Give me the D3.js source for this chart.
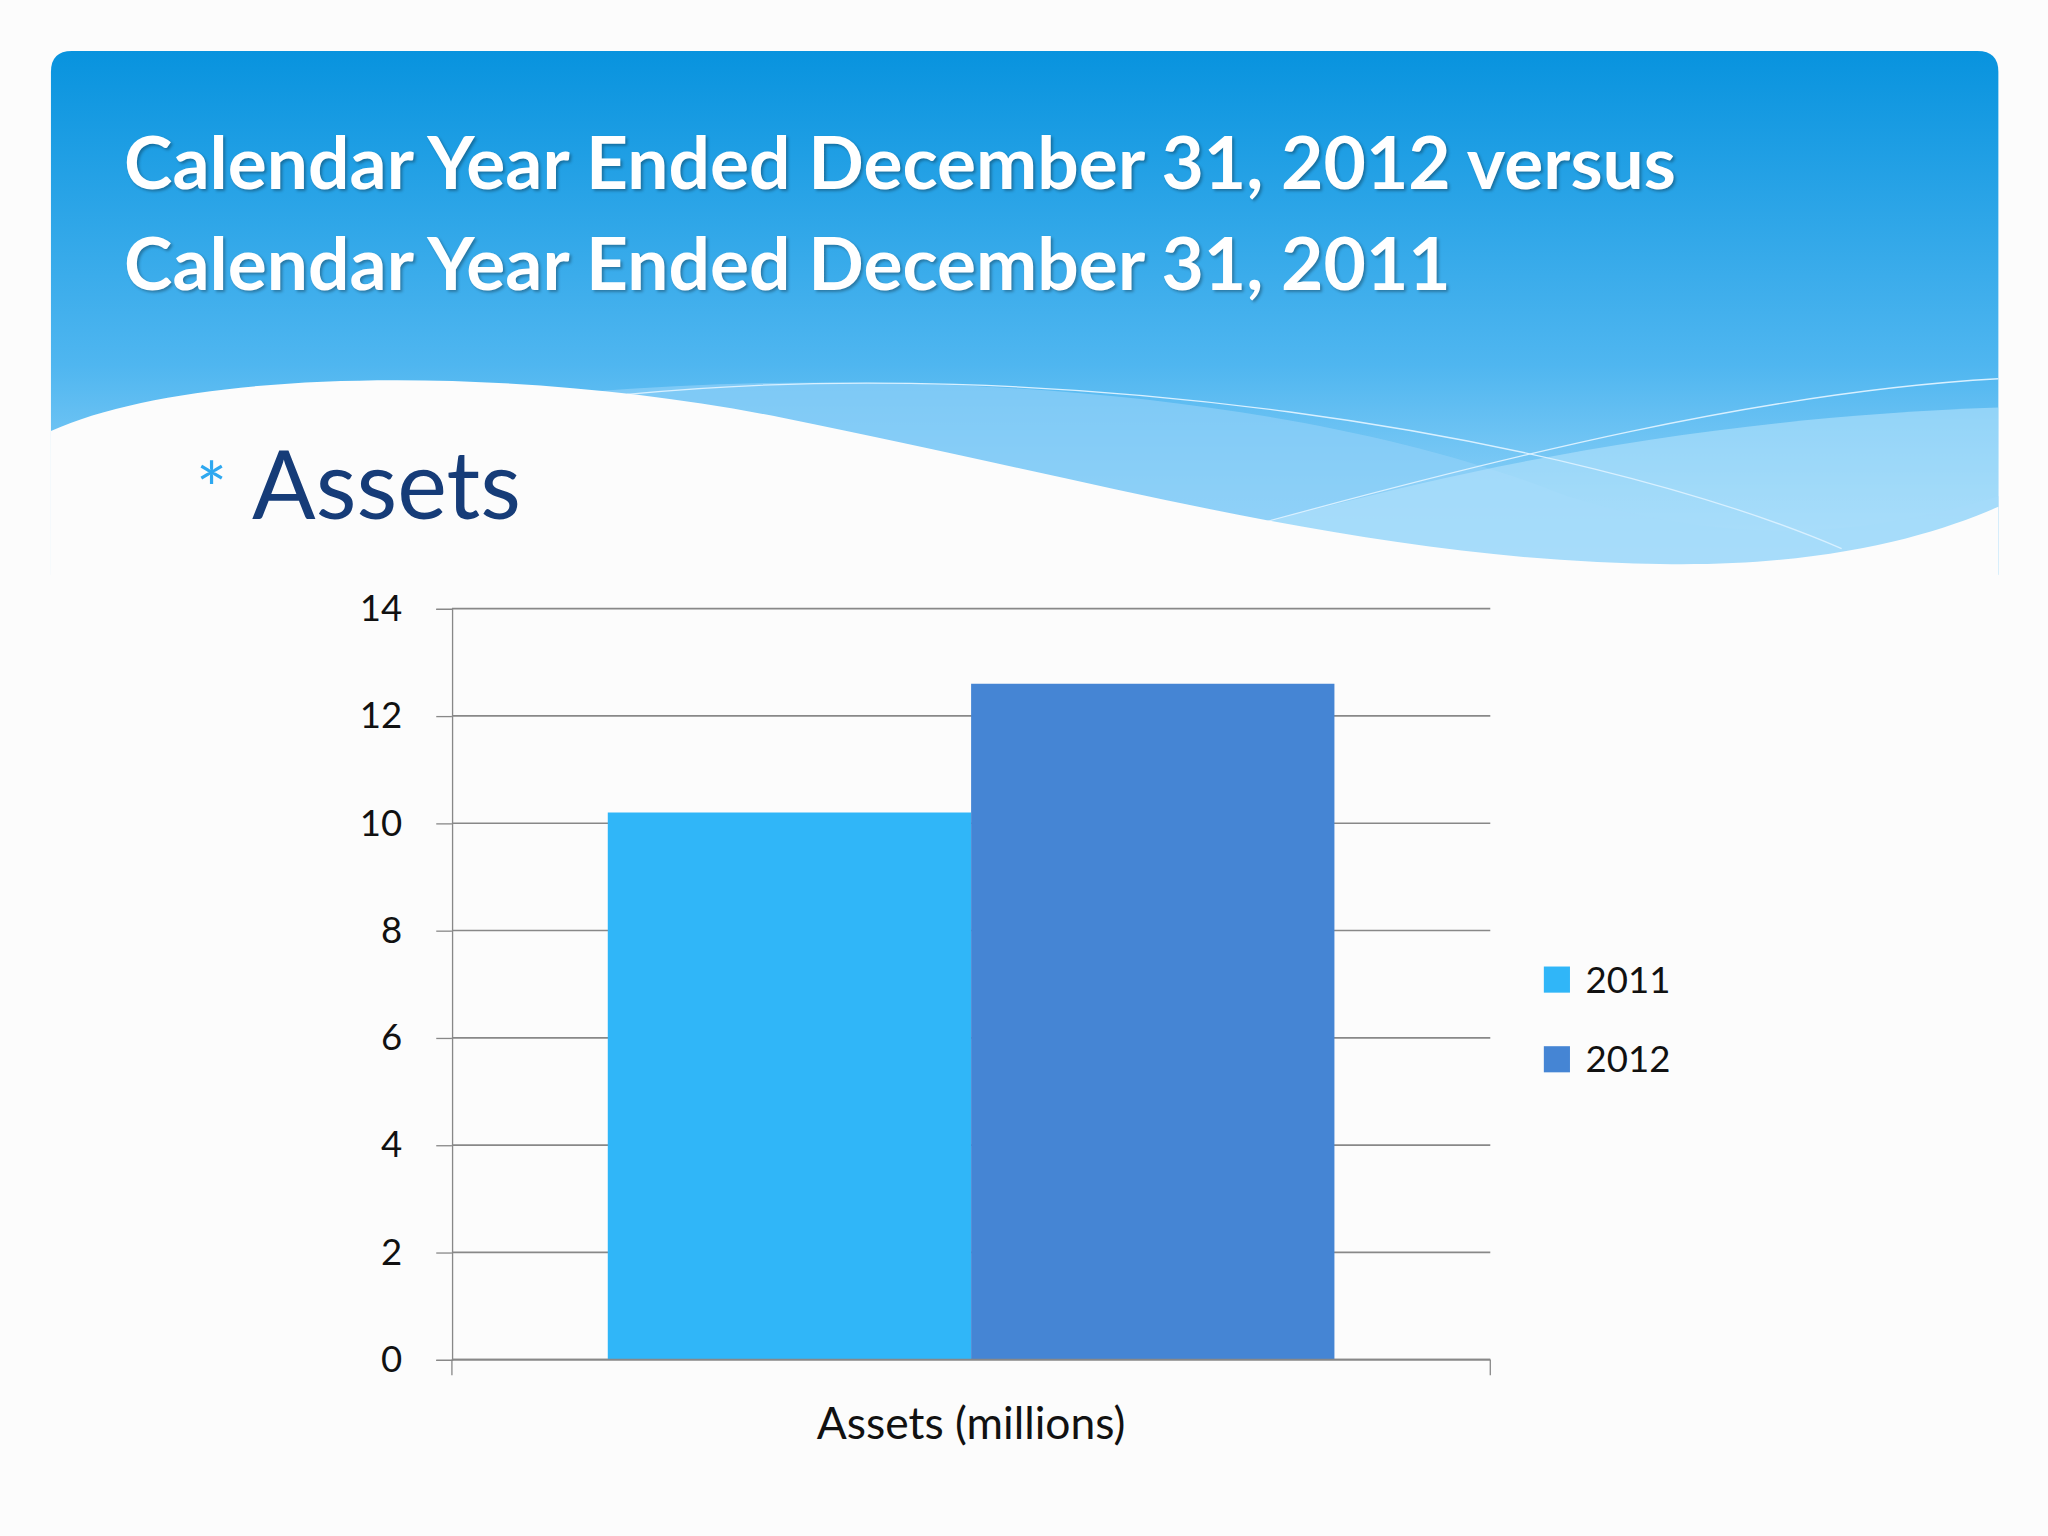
<!DOCTYPE html>
<html><head><meta charset="utf-8">
<script src="https://cdn.jsdelivr.net/npm/d3@7"></script>
<style>body{margin:0;background:#fff}svg{display:block}</style>
</head><body>
<svg id="c" width="2048" height="1536"></svg>
<script>
const categories = ['Assets (millions)']
const seriesNames = ['2011', '2012']
const seriesValues = [10.2, 12.6]
const yTicks = [0, 2, 4, 6, 8, 10, 12, 14]
const colors = ['#30b6f8', '#4585d4']

const svg = d3.select('#c')
const g = svg.append('g').attr('transform', 'scale(' + (2048 / 1568) + ')')

// slide background
g.append('rect').attr('width', 1568).attr('height', 1176).attr('fill', '#fcfcfc')

const defs = svg.append('defs')
const grad = defs.append('linearGradient').attr('id', 'hdr').attr('x1', 0).attr('y1', 0).attr('x2', 0).attr('y2', 1)
grad.append('stop').attr('offset', '0%').attr('stop-color', '#0893de')
grad.append('stop').attr('offset', '60%').attr('stop-color', '#4fb6f0')
grad.append('stop').attr('offset', '100%').attr('stop-color', '#a8dcfa')

// header band
g.append('path')
  .attr('d', 'M39,55 Q39,39 55,39 L1514,39 Q1530,39 1530,55 L1530,440 L39,440 Z')
  .attr('fill', 'url(#hdr)')
// lighter waves
g.append('path')
  .attr('d', 'M450,300 C700,280 1000,300 1200,380 C1300,410 1400,420 1530,380 L1530,440 L450,440 Z')
  .attr('fill', '#8fd0f8').attr('opacity', 0.7)
g.append('path')
  .attr('d', 'M900,420 C1100,360 1300,320 1530,312 L1530,440 L900,440 Z')
  .attr('fill', '#b4e2fc').attr('opacity', 0.6)
g.append('path').attr('d', 'M480,302 C800,270 1200,330 1410,420').attr('fill', 'none').attr('stroke', '#d8f0ff').attr('stroke-width', 1)
g.append('path').attr('d', 'M960,402 C1150,350 1350,300 1530,290').attr('fill', 'none').attr('stroke', '#d8f0ff').attr('stroke-width', 1)
// white area under wave
g.append('path')
  .attr('d', 'M39,330 C150,280 400,280 600,320 C850,370 1050,430 1280,432 C1400,433 1480,410 1530,388 L1530,460 L39,460 Z')
  .attr('fill', '#fcfcfc')

const title = g.append('text').attr('x', 95).attr('fill', '#fff')
  .attr('font-family', 'Lato, sans-serif').attr('font-weight', 'bold').attr('font-size', 56)
  .style('text-shadow', '2px 2px 3px rgba(0,0,0,0.3)')
title.append('tspan').attr('x', 95).attr('y', 145).text('Calendar Year Ended December 31, 2012 versus')
title.append('tspan').attr('x', 95).attr('y', 222).text('Calendar Year Ended December 31, 2011')

g.append('text').attr('x', 150).attr('y', 395).attr('fill', '#2ea8f0')
  .attr('font-family', 'Lato, sans-serif').attr('font-size', 56).text('*')
g.append('text').attr('x', 193).attr('y', 397).attr('fill', '#163c78')
  .attr('font-family', 'Lato, sans-serif').attr('font-size', 72).text('Assets')

// chart
const plotLeft = 346, plotRight = 1141, plotTop = 466, plotBottom = 1041
const y = d3.scaleLinear().domain([0, 14]).range([plotBottom, plotTop])
const x0 = d3.scaleBand().domain(categories).range([plotLeft, plotRight]).paddingInner(0).paddingOuter(0.2145)
const x1 = d3.scaleBand().domain(seriesNames).range([0, x0.bandwidth()])

g.append('g').selectAll('line').data(yTicks).join('line')
  .attr('x1', plotLeft).attr('x2', plotRight).attr('y1', d => y(d)).attr('y2', d => y(d))
  .attr('stroke', '#888').attr('stroke-width', 1.3)

const yAxis = g.append('g').attr('transform', 'translate(' + plotLeft + ',0)')
  .call(d3.axisLeft(y).tickValues(yTicks).tickSize(12).tickPadding(26))
yAxis.select('.domain').attr('stroke', '#888')
yAxis.selectAll('line').attr('stroke', '#888')
yAxis.selectAll('text').attr('font-family', 'Lato, sans-serif').attr('font-size', 28).attr('fill', '#111')

g.append('g').selectAll('rect').data(seriesValues).join('rect')
  .attr('x', (d, i) => x0(categories[0]) + x1(seriesNames[i]))
  .attr('width', x1.bandwidth())
  .attr('y', d => y(d)).attr('height', d => plotBottom - y(d))
  .attr('fill', (d, i) => colors[i])

g.append('line').attr('x1', plotLeft).attr('x2', plotRight).attr('y1', plotBottom).attr('y2', plotBottom).attr('stroke', '#888').attr('stroke-width', 1.3)
g.append('g').selectAll('line').data([plotLeft, plotRight]).join('line')
  .attr('x1', d => d).attr('x2', d => d).attr('y1', plotBottom).attr('y2', plotBottom + 12).attr('stroke', '#888')

g.append('text').attr('x', x0(categories[0]) + x0.bandwidth() / 2).attr('y', 1102)
  .attr('text-anchor', 'middle').attr('font-family', 'Lato, sans-serif').attr('font-size', 34).attr('fill', '#111')
  .text(categories[0])

const leg = g.append('g').selectAll('g').data(seriesNames).join('g')
  .attr('transform', (d, i) => 'translate(1182,' + (740 + i * 61) + ')')
leg.append('rect').attr('width', 20).attr('height', 20).attr('fill', (d, i) => colors[i])
leg.append('text').attr('x', 32).attr('y', 20).attr('font-family', 'Lato, sans-serif').attr('font-size', 28).attr('fill', '#111').text(d => d)
</script>
</body></html>
